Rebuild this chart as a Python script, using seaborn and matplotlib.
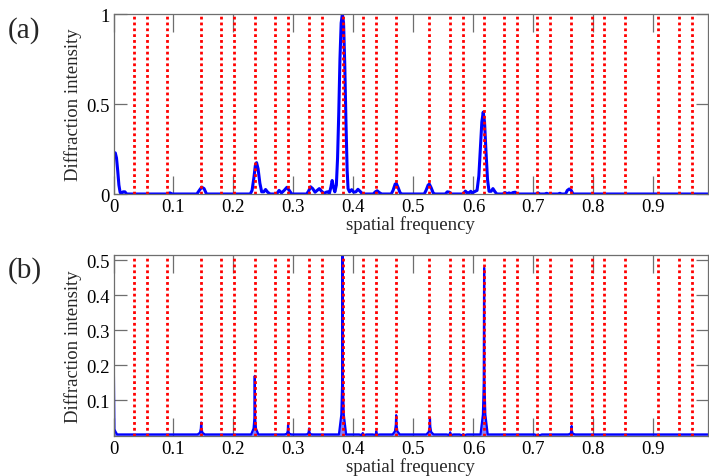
import numpy as np
import pandas as pd
import matplotlib
matplotlib.use("Agg")
import matplotlib.pyplot as plt
import seaborn as sns

# ---------------- data ----------------
red_lines = [0.0336, 0.0553, 0.0897, 0.1458, 0.1796, 0.2003, 0.2353, 0.2696,
             0.2913, 0.3263, 0.3470, 0.3820, 0.4153, 0.4368, 0.4708, 0.5263,
             0.5608, 0.5820, 0.6170, 0.6513, 0.6720, 0.7063, 0.7278, 0.7625,
             0.7970, 0.8178, 0.8525, 0.9080, 0.9425, 0.9636]

# panel (a): traced spectrum
freq_a = [0.000, 0.003, 0.005, 0.007, 0.009, 0.011, 0.013, 0.016, 0.019, 0.022,
          0.090, 0.094, 0.098, 0.139, 0.143, 0.147, 0.151, 0.155,
          0.228, 0.231, 0.234, 0.2365, 0.2385, 0.241, 0.244, 0.247, 0.2505, 0.2535, 0.257, 0.261,
          0.272, 0.276, 0.280, 0.2845, 0.289, 0.293, 0.297,
          0.322, 0.325, 0.3285, 0.332, 0.336, 0.3395, 0.343, 0.347, 0.351, 0.3545, 0.357, 0.360,
          0.3625, 0.3645, 0.3665, 0.369, 0.3715, 0.3735, 0.3755, 0.3775, 0.3795, 0.3815,
          0.3835, 0.3855, 0.3875, 0.3895, 0.391, 0.3935, 0.397, 0.4005, 0.404, 0.4075, 0.411, 0.415,
          0.433, 0.4365, 0.4395, 0.443, 0.447,
          0.463, 0.466, 0.4695, 0.4715, 0.4745, 0.478, 0.481,
          0.518, 0.521, 0.5245, 0.5265, 0.5295, 0.533, 0.536,
          0.553, 0.5565, 0.560, 0.563, 0.583, 0.5865, 0.590, 0.5925, 0.5955, 0.598, 0.600,
          0.603, 0.606, 0.609, 0.6115, 0.614, 0.6163, 0.6185, 0.621, 0.6235, 0.626, 0.6295,
          0.6325, 0.636, 0.639, 0.649, 0.6525, 0.656, 0.6595, 0.6625, 0.666, 0.6695, 0.673,
          0.704, 0.7075, 0.711, 0.719, 0.722, 0.725, 0.741, 0.744, 0.747,
          0.7535, 0.7565, 0.7597, 0.763, 0.766, 0.995]
inten_a = [0.232, 0.228, 0.200, 0.130, 0.050, 0.010, 0.000, 0.012, 0.012, 0.000,
           0.000, 0.006, 0.000, 0.000, 0.020, 0.038, 0.030, 0.000,
           0.000, 0.020, 0.090, 0.160, 0.174, 0.140, 0.060, 0.012, 0.012, 0.025, 0.010, 0.000,
           0.000, 0.020, 0.006, 0.020, 0.037, 0.020, 0.000,
           0.000, 0.015, 0.040, 0.030, 0.010, 0.020, 0.030, 0.015, 0.003, 0.010, 0.012, 0.005,
           0.040, 0.075, 0.040, 0.012, 0.050, 0.200, 0.450, 0.750, 0.950, 1.000,
           0.950, 0.720, 0.400, 0.130, 0.030, 0.012, 0.024, 0.010, 0.012, 0.026, 0.015, 0.000,
           0.000, 0.012, 0.018, 0.008, 0.000,
           0.000, 0.020, 0.055, 0.058, 0.035, 0.005, 0.000,
           0.000, 0.020, 0.050, 0.055, 0.035, 0.005, 0.000,
           0.000, 0.012, 0.010, 0.000, 0.000, 0.016, 0.005, 0.005, 0.015, 0.005, 0.010,
           0.015, 0.020, 0.100, 0.250, 0.400, 0.455, 0.400, 0.230, 0.080, 0.015, 0.015,
           0.030, 0.012, 0.000, 0.000, 0.008, 0.002, 0.006, 0.002, 0.008, 0.010, 0.000,
           0.000, 0.006, 0.000, 0.000, 0.004, 0.000, 0.000, 0.004, 0.000,
           0.000, 0.020, 0.028, 0.020, 0.000, 0.000]

# panel (b): sharp peaks
peak_pos_b = [0.0, 0.1462, 0.2355, 0.2910, 0.3260, 0.3818, 0.4155, 0.4380,
              0.4712, 0.5275, 0.5612, 0.5830, 0.6178, 0.7080, 0.7637]
peak_h_b = [0.235, 0.037, 0.170, 0.030, 0.020, 0.560, 0.007, 0.012,
            0.058, 0.050, 0.009, 0.004, 0.478, 0.003, 0.027]
peak_sh_b = [0.012, 0.020, 0.050, 0.012, 0.010, 0.150, 0.003, 0.005,
             0.030, 0.025, 0.004, 0.002, 0.150, 0.001, 0.012]
base_b = 0.003

xtick_vals = [0, 0.1, 0.2, 0.3, 0.4, 0.5, 0.6, 0.7, 0.8, 0.9]
xtick_labels = ["0", "0.1", "0.2", "0.3", "0.4", "0.5", "0.6", "0.7", "0.8", "0.9"]
ytick_a = [0, 0.5, 1]
ytick_a_labels = ["0", "0.5", "1"]
ytick_b = [0.1, 0.2, 0.3, 0.4, 0.5]
ytick_b_labels = ["0.1", "0.2", "0.3", "0.4", "0.5"]

# build polyline for panel (b) from the peak tables
xb, yb = [], []
for p, h, s in zip(peak_pos_b, peak_h_b, peak_sh_b):
    if p == 0.0:
        xs = [0.0, 0.0006, 0.0015, 0.003, 0.006]
        ys = [h, h * 0.78, s * 1.5, s, base_b]
    else:
        xs = [p - 0.006, p - 0.002, p - 0.0006, p, p + 0.0006, p + 0.002, p + 0.006]
        ys = [base_b, s * 0.4, s, h, s, s * 0.4, base_b]
    xb += xs
    yb += ys
xb.append(0.995)
yb.append(base_b)
df_b = pd.DataFrame({"f": xb, "I": yb}).sort_values("f")

# ---------------- style ----------------
sns.set_style("white")
plt.rcParams["font.family"] = ["Liberation Serif", "DejaVu Serif"]
plt.rcParams["axes.edgecolor"] = "#6e6e6e"
plt.rcParams["axes.linewidth"] = 0.9

fig = plt.figure(figsize=(7.09, 4.77), dpi=100)
ax1 = fig.add_axes([113.5 / 709, 282 / 477, 594.5 / 709, 180 / 477])
ax2 = fig.add_axes([113.5 / 709, 40.5 / 477, 594.5 / 709, 180.5 / 477])

blue = "#0000ff"
sns.lineplot(x=freq_a, y=inten_a, ax=ax1, color=blue, linewidth=2.2,
             estimator=None, sort=False, zorder=2)
ax2.fill_between(df_b["f"], 0, df_b["I"], color=blue, alpha=0.5, lw=0, zorder=2)
sns.lineplot(data=df_b, x="f", y="I", ax=ax2, color=blue, linewidth=1.6,
             estimator=None, sort=False, zorder=2)

for ax, ylim, yt, ytl in [(ax1, (0, 1), ytick_a, ytick_a_labels),
                          (ax2, (0, 0.515), ytick_b, ytick_b_labels)]:
    for f in red_lines:
        ax.axvline(f, color="#ff0000", linewidth=2.0, linestyle=(0, (1.0, 1.1)), zorder=3)
    ax.set_xlim(0, 0.991)
    ax.set_ylim(*ylim)
    ax.set_xticks(xtick_vals)
    ax.set_xticklabels(xtick_labels)
    ax.set_yticks(yt)
    ax.set_yticklabels(ytl)
    ax.tick_params(axis="x", direction="in", length=13, width=0.9, color="#6e6e6e",
                   top=True, bottom=True, pad=3, labelsize=13.5, labelcolor="black")
    ax.tick_params(axis="y", direction="in", length=9, width=0.9, color="#6e6e6e",
                   left=True, right=True, pad=3, labelsize=13.5, labelcolor="black")
    ax.set_xlabel("spatial frequency", fontsize=13.5, labelpad=0)
    ax.set_ylabel("Diffraction intensity", fontsize=13.5, labelpad=3)
    for sp in ax.spines.values():
        sp.set_visible(True)
        sp.set_zorder(4)

fig.text(0.011, 0.935, "(a)", fontsize=21, va="center", ha="left")
fig.text(0.011, 0.432, "(b)", fontsize=21, va="center", ha="left")

fig.savefig("out.png", dpi=100)
